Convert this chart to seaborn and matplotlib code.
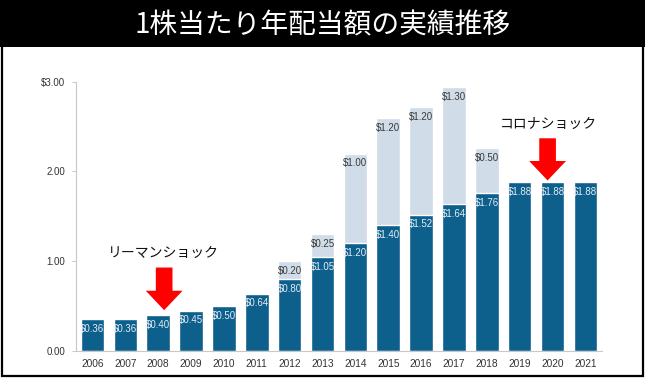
import pandas as pd
import matplotlib
matplotlib.use("Agg")
import matplotlib.pyplot as plt
import seaborn as sns
from matplotlib.patches import Rectangle

# ---------------------------------------------------------------
# DATA
# ---------------------------------------------------------------
years = ["2006", "2007", "2008", "2009", "2010", "2011", "2012", "2013",
         "2014", "2015", "2016", "2017", "2018", "2019", "2020", "2021"]
regular = [0.36, 0.36, 0.40, 0.45, 0.50, 0.64, 0.80, 1.05,
           1.20, 1.40, 1.52, 1.64, 1.76, 1.88, 1.88, 1.88]
special = [0, 0, 0, 0, 0, 0, 0.20, 0.25,
           1.00, 1.20, 1.20, 1.30, 0.50, 0, 0, 0]
ytick_vals = [0, 1, 2, 3]
ytick_labels = ["0.00", "1.00", "2.00", "\\$3.00"]
title = "1株当たり年配当額の実績推移"
event_names = ["リーマンショック", "コロナショック"]
event_years = ["2008", "2020"]

df = pd.DataFrame({"year": years, "regular": regular, "special": special})
df["total"] = df["regular"] + df["special"]

# ---------------------------------------------------------------
# STYLE
# ---------------------------------------------------------------
sns.set_theme(style="white")
plt.rcParams["font.family"] = ["Liberation Sans", "Noto Sans CJK JP", "DejaVu Sans"]

dark = "#0d5f8c"
light = "#d0dce8"
jp = ["Noto Sans CJK JP", "DejaVu Sans"]

fig = plt.figure(figsize=(6.45, 3.78), dpi=100)
ax = fig.add_axes([0.118, 0.0714, 0.815, 0.7124])

# stacked bars: light total behind, dark regular on top
sns.barplot(data=df, x="year", y="total", order=years, color=light,
            width=0.72, saturation=1, ax=ax)
sns.barplot(data=df, x="year", y="regular", order=years, color=dark,
            width=0.72, saturation=1, ax=ax)

ax.set_xlim(-0.5, 15.5)
ax.set_ylim(0, 3)
ax.set_yticks(ytick_vals)
ax.set_yticklabels(ytick_labels)
ax.set_xlabel("")
ax.set_ylabel("")

for s in ["top", "right"]:
    ax.spines[s].set_visible(False)
for s in ["left", "bottom"]:
    ax.spines[s].set_color("#c8c8c8")
    ax.spines[s].set_linewidth(0.8)

ax.tick_params(axis="y", length=3, width=0.6, color="#c0c0c0", pad=5,
               labelsize=7, labelcolor="#333333", left=True)
ax.tick_params(axis="x", length=0, pad=6, labelsize=7.3, labelcolor="#333333")

# value labels
for i, (r, sp) in enumerate(zip(regular, special)):
    ax.text(i, r - 0.11, f"\\${r:.2f}", ha="center", va="center",
            fontsize=7, color="#e4edf4")
    if sp > 0:
        ax.text(i, r + sp - 0.11, f"\\${sp:.2f}", ha="center", va="center",
                fontsize=7, color="#3a3a3a")

# event annotations
text_pos = {"2008": (2.15, 1.09), "2020": (13.86, 2.53)}
arrow_pos = {"2008": (2.18, 0.93, 0.455), "2020": (13.85, 2.37, 1.90)}
for name, yr in zip(event_names, event_years):
    tx, ty = text_pos[yr]
    ax.text(tx, ty, name, ha="center", va="center", fontsize=10,
            family=jp, color="#111111")
    axp, ytail, ytip = arrow_pos[yr]
    ax.annotate("", xy=(axp, ytip), xytext=(axp, ytail),
                arrowprops=dict(arrowstyle="simple,head_width=2.65,head_length=1.4,tail_width=1.2",
                                mutation_scale=10, color="#ff0000", lw=0,
                                shrinkA=0, shrinkB=0))

# title band and outer border
fig.patches.append(Rectangle((0, 1 - 47 / 378), 1, 47 / 378, transform=fig.transFigure,
                             facecolor="black", edgecolor="none", zorder=0))
fig.text(0.5, 1 - 25 / 378, title, ha="center", va="center", fontsize=20,
         color="white", family=jp)
fig.patches.append(Rectangle((0.003, 0.004), 0.994, 0.992, transform=fig.transFigure,
                             fill=False, edgecolor="black", linewidth=1.6, zorder=5))

fig.savefig("out.png", dpi=100)
